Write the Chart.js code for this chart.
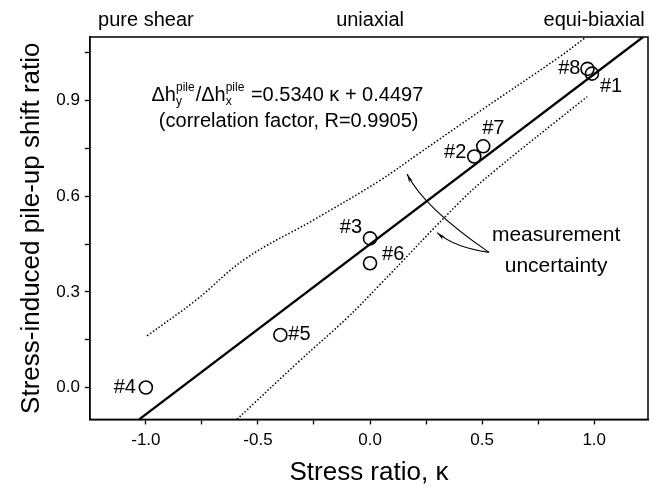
<!DOCTYPE html>
<html>
<head>
<meta charset="utf-8">
<script src="https://cdn.jsdelivr.net/npm/chart.js@4.4.1/dist/chart.umd.min.js"></script>
<style>
  html, body { margin: 0; padding: 0; background: #fff; }
  #wrap { width: 659px; height: 488px; }
</style>
</head>
<body>
<div id="wrap"><canvas id="chart" width="659" height="488"></canvas></div>
<script>
// measured samples: stress ratio (kappa) vs pile-up shift ratio
const sampleNames = ['#1', '#2', '#3', '#4', '#5', '#6', '#7', '#8'];
const stressRatio = [0.99, 0.465, 0.0, -1.0, -0.4, 0.0, 0.505, 0.97];
const shiftRatio  = [0.985, 0.725, 0.468, 0.0, 0.165, 0.39, 0.757, 1.0];

// fitted line, end points
const fitX = [-1.03, 1.218];
const fitY = [-0.1, 1.1];

// measurement uncertainty bands (dotted curves)
const upperX = [-0.995, -0.777, -0.554, -0.259, 0.04, 0.219, 0.5, 0.844, 0.964];
const upperY = [0.162, 0.274, 0.405, 0.523, 0.648, 0.735, 0.872, 1.037, 1.10];
const lowerX = [-0.594, -0.317, -0.103, 0.04, 0.406, 0.554, 0.969];
const lowerY = [-0.1, 0.082, 0.218, 0.32, 0.586, 0.679, 0.913];

// axis ticks
const xTickValues = [-1.0, -0.75, -0.5, -0.25, 0.0, 0.25, 0.5, 0.75, 1.0];
const xMajor = [-1.0, -0.5, 0.0, 0.5, 1.0];
const xTickLabels = ['-1.0', '-0.5', '0.0', '0.5', '1.0'];
const yTickValues = [0.0, 0.15, 0.3, 0.45, 0.6, 0.75, 0.9, 1.05];
const yMajor = [0.0, 0.3, 0.6, 0.9];
const yTickLabels = ['0.0', '0.3', '0.6', '0.9'];
const topTickValues = [-1.0, 0.0, 1.0];
const topTickLabels = ['pure shear', 'uniaxial', 'equi-biaxial'];

const FONT = '"Liberation Sans", Arial, Helvetica, sans-serif';
Chart.defaults.font.family = FONT;
Chart.defaults.color = '#000';

function pairs(xs, ys) {
    return xs.map((v, i) => ({ x: v, y: ys[i] }));
}

function majorLabel(value, majors, labels) {
    const idx = majors.findIndex(m => Math.abs(m - value) < 1e-6);
    return idx >= 0 ? labels[idx] : '';
}

// where each sample name sits relative to its circle
const labelPlacement = {
    '#1': { dx: 8, dy: 13, align: 'left' },
    '#2': { dx: -8, dy: -4, align: 'right' },
    '#3': { dx: -8, dy: -11, align: 'right' },
    '#4': { dx: -10, dy: 0, align: 'right' },
    '#5': { dx: 8, dy: 0, align: 'left' },
    '#6': { dx: 12, dy: -9, align: 'left' },
    '#7': { dx: -1, dy: -18, align: 'left' },
    '#8': { dx: -7, dy: 0, align: 'right' }
};

// frame, sample labels, equation and the uncertainty arrows
const notesPlugin = {
    id: 'notes',
    afterDatasetsDraw(chart) {
        const { ctx, chartArea: area, scales: { x, y } } = chart;
        const px = v => x.getPixelForValue(v);
        const py = v => y.getPixelForValue(v);
        ctx.save();

        ctx.strokeStyle = '#000';
        ctx.lineWidth = 1.5;
        ctx.strokeRect(area.left, area.top, area.right - area.left, area.bottom - area.top);

        ctx.fillStyle = '#000';
        ctx.textBaseline = 'middle';
        ctx.font = '20px ' + FONT;
        const meta = chart.getDatasetMeta(3);
        meta.data.forEach((pt, i) => {
            const p = labelPlacement[sampleNames[i]];
            ctx.textAlign = p.align;
            ctx.fillText(sampleNames[i], pt.x + p.dx, pt.y + p.dy);
        });

        // equation with sub/superscripts
        ctx.textBaseline = 'alphabetic';
        ctx.textAlign = 'left';
        let cx = px(-0.975);
        const base = py(0.90);
        const big = '20px ' + FONT, small = '12px ' + FONT;
        const put = (txt, font, dy) => {
            ctx.font = font;
            ctx.fillText(txt, cx, base + dy);
            return ctx.measureText(txt).width;
        };
        const supsub = (sup, sub) => {
            const w1 = put(sup, small, -10);
            const w2 = put(sub, small, 4);
            cx += Math.max(w1, w2) + 1;
        };
        cx += put('\u0394h', big, 0);
        supsub('pile', 'y');
        cx += put('/\u0394h', big, 0);
        supsub('pile', 'x');
        put(' =0.5340 \u03ba + 0.4497', big, 0);

        ctx.font = big;
        ctx.fillText('(correlation factor, R=0.9905)', px(-0.942), py(0.819));

        ctx.textAlign = 'center';
        ctx.font = '21px ' + FONT;
        ctx.fillText('measurement', px(0.83), py(0.461));
        ctx.fillText('uncertainty', px(0.83), py(0.361));

        // curved arrows pointing at both dotted bands
        const arrow = (s, c, t) => {
            const sx = px(s[0]), sy = py(s[1]);
            const qx = px(c[0]), qy = py(c[1]);
            const tx = px(t[0]), ty = py(t[1]);
            ctx.lineWidth = 1.1;
            ctx.beginPath();
            ctx.moveTo(sx, sy);
            ctx.quadraticCurveTo(qx, qy, tx, ty);
            ctx.stroke();
            const ang = Math.atan2(ty - qy, tx - qx);
            const len = 9, half = 0.22;
            ctx.beginPath();
            ctx.moveTo(tx, ty);
            ctx.lineTo(tx - len * Math.cos(ang - half), ty - len * Math.sin(ang - half));
            ctx.lineTo(tx - len * 0.7 * Math.cos(ang), ty - len * 0.7 * Math.sin(ang));
            ctx.lineTo(tx - len * Math.cos(ang + half), ty - len * Math.sin(ang + half));
            ctx.closePath();
            ctx.fill();
        };
        arrow([0.531, 0.424], [0.241, 0.564], [0.165, 0.67]);
        arrow([0.531, 0.424], [0.379, 0.439], [0.299, 0.486]);

        ctx.restore();
    }
};

const dottedLine = {
    type: 'line',
    borderColor: '#000',
    borderWidth: 1.5,
    borderDash: [1.5, 2],
    pointRadius: 0,
    tension: 0.4,
    fill: false
};

new Chart(document.getElementById('chart'), {
    type: 'scatter',
    data: {
        datasets: [
            Object.assign({ data: pairs(upperX, upperY) }, dottedLine),
            Object.assign({ data: pairs(lowerX, lowerY) }, dottedLine),
            {
                type: 'line',
                data: pairs(fitX, fitY),
                borderColor: '#000',
                borderWidth: 2.3,
                pointRadius: 0,
                fill: false
            },
            {
                data: pairs(stressRatio, shiftRatio),
                pointRadius: 6.5,
                pointBorderWidth: 1.6,
                pointBorderColor: '#000',
                pointBackgroundColor: 'rgba(0,0,0,0)'
            }
        ]
    },
    options: {
        responsive: false,
        animation: false,
        events: [],
        layout: { padding: { top: 3, right: 11, left: 16, bottom: 0 } },
        plugins: { legend: { display: false }, tooltip: { enabled: false } },
        scales: {
            x: {
                type: 'linear',
                min: -1.25,
                max: 1.24,
                afterBuildTicks: ax => { ax.ticks = xTickValues.map(v => ({ value: v })); },
                ticks: {
                    autoSkip: false,
                    maxRotation: 0,
                    padding: 6,
                    font: { size: 17 },
                    color: '#000',
                    callback: v => majorLabel(v, xMajor, xTickLabels)
                },
                grid: { display: true, drawOnChartArea: false, tickLength: 5, tickWidth: 1.3, tickColor: '#000' },
                border: { display: true, color: '#000', width: 1.5 },
                title: { display: true, text: 'Stress ratio, \u03ba', font: { size: 26 }, color: '#000', padding: { top: 0, bottom: 0 } }
            },
            x2: {
                type: 'linear',
                position: 'top',
                min: -1.25,
                max: 1.24,
                afterBuildTicks: ax => { ax.ticks = topTickValues.map(v => ({ value: v })); },
                ticks: {
                    autoSkip: false,
                    maxRotation: 0,
                    padding: 5,
                    font: { size: 20 },
                    color: '#000',
                    callback: (v, i) => topTickLabels[i]
                },
                grid: { display: false, drawTicks: false },
                border: { display: false }
            },
            y: {
                type: 'linear',
                min: -0.1,
                max: 1.1,
                afterBuildTicks: ax => { ax.ticks = yTickValues.map(v => ({ value: v })); },
                ticks: {
                    autoSkip: false,
                    padding: 5,
                    font: { size: 17 },
                    color: '#000',
                    callback: v => majorLabel(v, yMajor, yTickLabels)
                },
                grid: { display: true, drawOnChartArea: false, tickLength: 5, tickWidth: 1.3, tickColor: '#000' },
                border: { display: true, color: '#000', width: 1.5 },
                title: { display: true, text: 'Stress-induced pile-up shift ratio', font: { size: 26 }, color: '#000', padding: { top: 0, bottom: 4 } }
            }
        }
    },
    plugins: [notesPlugin]
});
</script>
</body>
</html>
